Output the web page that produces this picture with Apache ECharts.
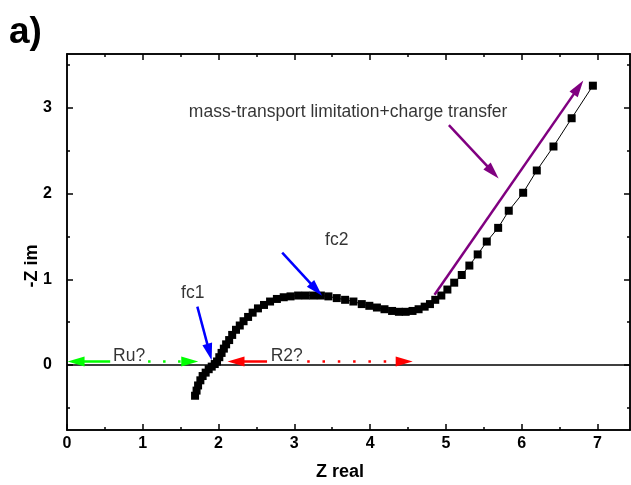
<!DOCTYPE html>
<html><head><meta charset="utf-8">
<script src="https://cdn.jsdelivr.net/npm/echarts@6/dist/echarts.min.js"></script>
<style>html,body{margin:0;padding:0;background:#fff}#c{width:631px;height:485px}</style>
</head><body><div id="c"></div>
<script>
// ---- data (Nyquist plot) ----
const zReal = [1.69,1.71,1.73,1.76,1.79,1.83,1.87,1.91,1.95,1.98,2.01,2.04,2.07,2.10,2.14,2.18,2.23,2.28,2.33,2.39,2.45,2.52,2.60,2.68,2.77,2.86,2.95,3.05,3.15,3.25,3.35,3.45,3.56,3.67,3.78,3.89,3.99,4.09,4.19,4.29,4.38,4.47,4.56,4.64,4.72,4.79,4.86,4.94,5.02,5.11,5.21,5.31,5.42,5.54,5.69,5.83,6.02,6.20,6.42,6.66,6.94];
const zIm   = [-0.36,-0.30,-0.24,-0.18,-0.13,-0.09,-0.05,-0.02,0.01,0.04,0.09,0.14,0.19,0.24,0.29,0.35,0.41,0.46,0.51,0.56,0.61,0.66,0.70,0.74,0.77,0.79,0.80,0.81,0.81,0.81,0.81,0.80,0.78,0.76,0.74,0.71,0.69,0.67,0.65,0.63,0.62,0.62,0.63,0.65,0.68,0.71,0.76,0.81,0.88,0.96,1.05,1.16,1.29,1.44,1.60,1.80,2.01,2.27,2.55,2.88,3.26];

// ---- axes ----
const xRange = [0, 7.43];
const yRange = [-0.76, 3.63];
const xMajorTicks = [0,1,2,3,4,5,6,7];
const xMinorTicks = [0.5,1.5,2.5,3.5,4.5,5.5,6.5];
const yMajorTicks = [0,1,2,3];
const yMinorTicks = [-0.5,0.5,1.5,2.5,3.5];

// ---- annotations (data coordinates) ----
const noteTexts = ['fc1','fc2','Ru?','R2?','mass-transport limitation+charge transfer'];
const noteX = [1.66, 3.56, 0.82, 2.90, 3.71];
const noteY = [0.84, 1.46, 0.10, 0.10, 2.95];

// arrow tail and arrow-head centre points
const arrowNames = ['greenL','greenR','redL','redR','fc1','fc2','massShort','massLong'];
const arrowFrom = [[0.57,0.04],[1.07,0.04],[2.64,0.04],[3.17,0.04],[1.72,0.68],[2.84,1.31],[5.04,2.80],[4.85,0.82]];
const arrowTo   = [[0.12,0.04],[1.62,0.04],[2.23,0.04],[4.45,0.04],[1.88,0.15],[3.29,0.88],[5.62,2.25],[6.75,3.24]];

// ---- styles ----
const arrowStyle = {
  greenL:{color:'#00ff00', dash:'solid'},
  greenR:{color:'#00ff00', dash:[2.5,12.5]},
  redL:{color:'#ff0000', dash:'solid'},
  redR:{color:'#ff0000', dash:[2.5,12.8]},
  fc1:{color:'#0000ff', dash:'solid'},
  fc2:{color:'#0000ff', dash:'solid'},
  massShort:{color:'#800080', dash:'solid'},
  massLong:{color:'#800080', dash:'solid'}
};
const FONT = 'Liberation Sans, Arial, Helvetica, sans-serif';

const chart = echarts.init(document.getElementById('c'), null, {renderer:'canvas'});

function xAx(pos, ticks, len, labels){
  return {type:'value', position:pos, min:xRange[0], max:xRange[1],
    axisLine:{show:true, onZero:false, lineStyle:{color:'#000', width:1.5}},
    axisTick:{show:true, inside:true, length:len, customValues:ticks, lineStyle:{color:'#000', width:1.5}},
    axisLabel:labels ? {show:true, customValues:ticks, color:'#000', fontWeight:'bold', fontSize:16, fontFamily:FONT, margin:6} : {show:false},
    splitLine:{show:false}};
}
function yAx(pos, ticks, len, labels){
  return {type:'value', position:pos, min:yRange[0], max:yRange[1],
    axisLine:{show:true, onZero:false, lineStyle:{color:'#000', width:1.5}},
    axisTick:{show:true, inside:true, length:len, customValues:ticks, lineStyle:{color:'#000', width:1.5}},
    axisLabel:labels ? {show:true, customValues:ticks, color:'#000', fontWeight:'bold', fontSize:16, fontFamily:FONT, margin:15} : {show:false},
    splitLine:{show:false}};
}

const arrowData = arrowNames.map((n,i)=>{
  const s = arrowStyle[n];
  return [
    {coord:arrowFrom[i], symbol:'none', lineStyle:{color:s.color, width:2.5, type:s.dash, cap:'butt'}},
    {coord:arrowTo[i], symbol:'triangle', symbolSize:[10,17], itemStyle:{color:s.color}}
  ];
});

chart.setOption({
  animation:false,
  backgroundColor:'#fff',
  grid:{left:67, right:1, top:54, bottom:55, containLabel:false},
  xAxis:[xAx('bottom', xMajorTicks, 6, true), xAx('bottom', xMinorTicks, 3, false),
         xAx('top', xMajorTicks, 6, false), xAx('top', xMinorTicks, 3, false)],
  yAxis:[yAx('left', yMajorTicks, 6, true), yAx('left', yMinorTicks, 3, false),
         yAx('right', yMajorTicks, 6, false), yAx('right', yMinorTicks, 3, false)],
  graphic:[
    {type:'text', left:9, top:14, style:{text:'a)', font:'bold 37px '+FONT, fill:'#000'}},
    {type:'text', x:340, y:472, style:{text:'Z real', font:'bold 18px '+FONT, fill:'#000', align:'center', verticalAlign:'middle'}},
    {type:'text', x:32, y:266, rotation:Math.PI/2, style:{text:'-Z im', font:'bold 18px '+FONT, fill:'#000', align:'center', verticalAlign:'middle'}}
  ],
  series:[
    {type:'line', xAxisIndex:0, yAxisIndex:0, data:zReal.map((x,i)=>[x,zIm[i]]),
     symbol:'rect', symbolSize:8, showAllSymbol:true,
     itemStyle:{color:'#000'}, lineStyle:{color:'#000', width:1}, z:5,
     markLine:{silent:true, symbol:'none', label:{show:false}, lineStyle:{color:'#000', width:1.5, type:'solid'},
       data:[{yAxis:0}], z:3}},
    {type:'scatter', xAxisIndex:0, yAxisIndex:0, data:noteX.map((x,i)=>[x,noteY[i]]),
     symbolSize:1, itemStyle:{color:'transparent'}, silent:true, z:6,
     label:{show:true, position:'inside', color:'#000', fontSize:17.5, fontFamily:FONT,
       formatter:p=>noteTexts[p.dataIndex]},
     markLine:{silent:true, label:{show:false}, animation:false, data:arrowData, z:6}}
  ]
});
</script></body></html>
